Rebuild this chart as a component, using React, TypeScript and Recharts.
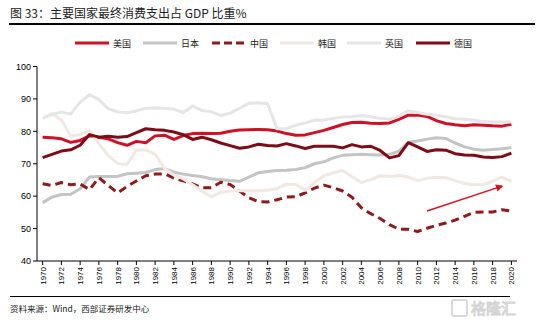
import { LineChart, Line, XAxis, YAxis, ReferenceLine } from 'recharts';

const years = [
  1970, 1971, 1972, 1973, 1974, 1975, 1976, 1977, 1978, 1979,
  1980, 1981, 1982, 1983, 1984, 1985, 1986, 1987, 1988, 1989,
  1990, 1991, 1992, 1993, 1994, 1995, 1996, 1997, 1998, 1999,
  2000, 2001, 2002, 2003, 2004, 2005, 2006, 2007, 2008, 2009,
  2010, 2011, 2012, 2013, 2014, 2015, 2016, 2017, 2018, 2019, 2020,
];

const xTicks = [
  1970, 1972, 1974, 1976, 1978, 1980, 1982, 1984, 1986, 1988, 1990, 1992, 1994,
  1996, 1998, 2000, 2002, 2004, 2006, 2008, 2010, 2012, 2014, 2016, 2018, 2020,
];
const yTicks = [40, 50, 60, 70, 80, 90, 100];

// 美国
const us = [
  78.2, 78.0, 77.7, 76.6, 77.2, 78.6, 78.2, 77.7, 76.5, 75.7,
  76.9, 76.5, 78.6, 78.8, 77.5, 78.7, 79.3, 79.4, 79.3, 79.4,
  80.0, 80.4, 80.5, 80.6, 80.5, 80.1, 79.3, 78.8, 78.9, 79.6,
  80.3, 81.2, 82.1, 82.7, 82.8, 82.5, 82.4, 82.6, 83.7, 85.0,
  85.0, 84.6, 83.3, 82.4, 82.0, 81.7, 82.0, 81.9, 81.7, 81.6, 82.2,
];
// 日本
const japan = [
  58.0, 59.7, 60.5, 60.6, 62.3, 65.9, 66.1, 66.1, 66.1, 66.9,
  67.1, 67.3, 68.2, 68.5, 67.4, 66.8, 66.4, 66.0, 65.4, 65.1,
  64.8, 64.6, 65.9, 67.2, 67.6, 67.9, 68.0, 68.2, 68.8, 70.0,
  70.6, 71.8, 72.6, 72.8, 72.9, 72.8, 72.7, 72.9, 73.9, 76.6,
  77.0, 77.6, 78.0, 77.8, 76.4, 75.2, 74.5, 74.2, 74.4, 74.6, 75.0,
];
// 中国
const china = [
  63.8, 63.3, 64.2, 63.5, 63.8, 62.0, 65.7, 63.3, 61.0, 63.0,
  64.7, 66.3, 66.8, 66.9, 65.6, 64.7, 63.8, 62.6, 62.6, 64.3,
  63.6, 61.6, 59.5, 58.3, 58.2, 58.9, 59.7, 59.8, 61.0, 62.5,
  63.4, 62.6, 61.6, 59.7, 56.4, 54.6, 53.1, 51.2, 49.8, 49.8,
  49.1, 50.1, 51.0, 51.7, 52.6, 53.8, 55.0, 55.1, 55.1, 55.8, 55.4,
];
// 韩国
const korea = [
  84.0, 85.5, 83.5, 78.5, 79.0, 80.2, 76.2, 72.5, 70.1, 69.8,
  74.2, 74.3, 73.0, 68.6, 66.5, 65.3, 63.5, 61.5, 59.8, 61.2,
  61.6, 61.7, 61.7, 61.7, 61.8, 62.3, 63.7, 63.6, 61.8, 64.2,
  66.3, 67.2, 67.9, 66.0, 64.2, 65.1, 66.3, 66.1, 66.4, 65.9,
  64.8, 65.5, 65.8, 65.7, 64.8, 63.9, 63.5, 63.6, 64.6, 65.9, 64.5,
];
// 英国
const uk = [
  84.0, 85.2, 86.0, 85.3, 89.0, 91.3, 89.8, 87.0, 86.0, 85.7,
  86.3, 87.1, 87.2, 87.1, 86.8, 85.8, 87.8, 86.4, 86.0, 84.9,
  85.6, 87.1, 88.7, 88.8, 88.5, 80.8, 80.8, 81.9, 82.6, 83.4,
  83.5, 84.0, 84.4, 84.5, 84.9, 84.5, 84.0, 83.7, 84.7, 86.3,
  85.8, 85.3, 85.0, 84.5, 83.9, 83.7, 83.5, 83.0, 82.9, 82.9, 82.9,
];
// 德国
const germany = [
  71.9, 72.9, 73.9, 74.3, 75.7, 79.0, 78.2, 78.5, 78.2, 78.4,
  79.6, 80.8, 80.5, 80.3, 79.8, 79.0, 77.5, 78.2, 77.4, 76.4,
  75.6, 74.8, 75.2, 76.0, 75.6, 75.5, 76.2, 75.5, 74.7, 75.4,
  75.4, 75.4, 74.9, 75.9, 75.2, 75.4, 74.1, 71.8, 72.5, 76.5,
  75.2, 73.8, 74.3, 74.2, 73.1, 72.7, 72.6, 72.1, 71.9, 72.2, 73.3,
];

// arrow annotation (years / percent)
const arrowFrom = { x: 2011, y: 55.4 };
const arrowTo = { x: 2019, y: 63.1 };

const data = years.map((year, i) => ({
  year,
  us: us[i],
  japan: japan[i],
  china: china[i],
  korea: korea[i],
  uk: uk[i],
  germany: germany[i],
}));

const series = [
  { key: 'us', name: '美国', color: '#CE1126', dash: undefined },
  { key: 'japan', name: '日本', color: '#C4C4C4', dash: undefined },
  { key: 'china', name: '中国', color: '#8E1A1E', dash: '8 5' },
  { key: 'korea', name: '韩国', color: '#F1E8E2', dash: undefined },
  { key: 'uk', name: '英国', color: '#E6E6E6', dash: undefined },
  { key: 'germany', name: '德国', color: '#7D0C17', dash: undefined },
];

const cjk = '"Noto Sans CJK SC", "Noto Sans", sans-serif';
const latin = '"Liberation Sans", Arial, sans-serif';

function XTick({ x, y, payload }: any) {
  return (
    <text
      x={x}
      y={y}
      dy={3}
      transform={`rotate(-90 ${x} ${y})`}
      textAnchor="end"
      fontSize={8}
      fontFamily={latin}
      fill="#000"
    >
      {payload.value}
    </text>
  );
}

const legendX = [75, 143, 212, 280, 347, 416];

export default function App() {
  return (
    <div
      style={{
        position: 'absolute',
        left: 0,
        top: 0,
        width: 545,
        height: 324,
        background: '#fff',
        fontFamily: cjk,
      }}
    >
      <div
        style={{
          position: 'absolute',
          left: 10,
          top: 5,
          fontSize: 12,
          lineHeight: '16px',
          color: '#222',
          whiteSpace: 'nowrap',
        }}
      >
        图 33：主要国家最终消费支出占 GDP 比重%
      </div>
      <div style={{ position: 'absolute', left: 9, top: 23, width: 526, height: 1.5, background: '#000' }} />

      {series.map((s, i) => (
        <div
          key={s.key}
          style={{ position: 'absolute', left: legendX[i], top: 36, height: 14, display: 'flex', alignItems: 'center' }}
        >
          <svg width={34} height={6}>
            <line x1={0} y1={3} x2={34} y2={3} stroke={s.color} strokeWidth={3} strokeDasharray={s.key === 'china' ? '8 4' : undefined} />
          </svg>
          <span style={{ fontSize: 9, color: '#222', marginLeft: 4, whiteSpace: 'nowrap' }}>{s.name}</span>
        </div>
      ))}

      <div style={{ position: 'absolute', left: 0, top: 0 }}>
        <LineChart width={545} height={324} data={data} margin={{ top: 66.5, right: 28, bottom: 38, left: 0 }}>
          <defs>
            <marker id="arrowHead" viewBox="0 0 10 10" refX="8" refY="5" markerWidth="5" markerHeight="5" orient="auto">
              <path d="M0,0 L10,5 L0,10 z" fill="#D7141E" />
            </marker>
          </defs>
          <XAxis
            dataKey="year"
            type="number"
            domain={[1969.4, 2020.6]}
            ticks={xTicks}
            interval={0}
            height={25}
            tickSize={4}
            tick={<XTick />}
            axisLine={{ stroke: '#000', strokeWidth: 1 }}
            tickLine={{ stroke: '#000' }}
          />
          <YAxis
            type="number"
            domain={[40, 100]}
            ticks={yTicks}
            width={37}
            tickSize={4}
            tick={{ fontSize: 9, fill: '#000', fontFamily: latin }}
            axisLine={{ stroke: '#000', strokeWidth: 1 }}
            tickLine={{ stroke: '#000' }}
          />
          {series.map((s) => (
            <Line
              key={s.key}
              type="linear"
              dataKey={s.key}
              name={s.name}
              stroke={s.color}
              strokeWidth={3}
              strokeDasharray={s.dash}
              strokeLinejoin="round"
              dot={false}
              isAnimationActive={false}
            />
          ))}
          <ReferenceLine
            segment={[arrowFrom, arrowTo]}
            ifOverflow="visible"
            shape={(p: any) => (
              <line
                x1={p.x1}
                y1={p.y1}
                x2={p.x2}
                y2={p.y2}
                stroke="#D7141E"
                strokeWidth={1.5}
                markerEnd="url(#arrowHead)"
              />
            )}
          />
        </LineChart>
      </div>

      <div style={{ position: 'absolute', left: 10, top: 295.5, width: 500, height: 1.5, background: '#000' }} />
      <div
        style={{
          position: 'absolute',
          left: 10,
          top: 302,
          fontSize: 8.5,
          lineHeight: '12px',
          color: '#222',
          whiteSpace: 'nowrap',
        }}
      >
        资料来源：Wind，西部证券研发中心
      </div>
      <svg style={{ position: 'absolute', left: 450, top: 297 }} width={72} height={24}>
        <rect x={2} y={3} width={15} height={16} rx={2} fill="none" stroke="#d9d9d9" strokeWidth={2} />
        <text x={21} y={17} fontSize={15} fontFamily={cjk} fill="#fff" stroke="#d4d4d4" strokeWidth={1}>
          格隆汇
        </text>
      </svg>
    </div>
  );
}
